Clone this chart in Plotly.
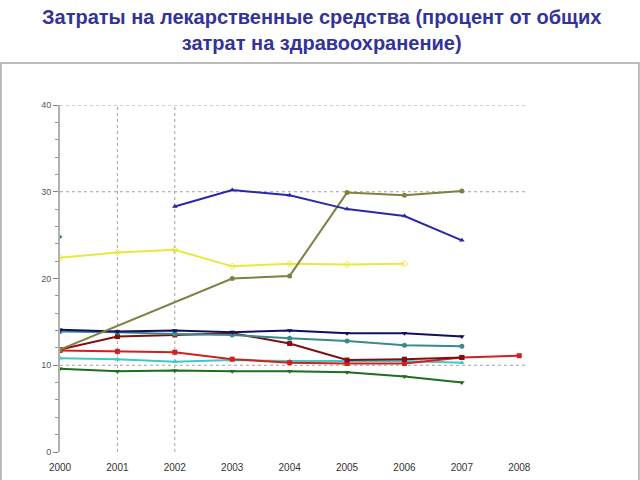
import plotly.graph_objects as go

years = [2000, 2001, 2002, 2003, 2004, 2005, 2006, 2007, 2008]

# ряды (процент от общих затрат на здравоохранение)
blue_x = [2002, 2003, 2004, 2005, 2006, 2007]
blue_y = [28.3, 30.2, 29.6, 28.0, 27.2, 24.4]

olive_x = [2000, 2003, 2004, 2005, 2006, 2007]
olive_y = [11.8, 20.0, 20.3, 29.9, 29.6, 30.1]

yellow_x = [2000, 2001, 2002, 2003, 2004, 2005, 2006]
yellow_y = [22.4, 23.0, 23.3, 21.4, 21.7, 21.6, 21.7]

green_pt_x = [2000]
green_pt_y = [24.8]

navy_x = [2000, 2001, 2002, 2003, 2004, 2005, 2006, 2007]
navy_y = [14.1, 13.9, 14.0, 13.8, 14.0, 13.7, 13.7, 13.3]

teal_x = [2000, 2001, 2002, 2003, 2004, 2005, 2006, 2007]
teal_y = [13.9, 13.8, 13.6, 13.5, 13.1, 12.8, 12.3, 12.2]

maroon_x = [2000, 2001, 2002, 2003, 2004, 2005, 2006, 2007]
maroon_y = [11.8, 13.3, 13.5, 13.7, 12.5, 10.6, 10.7, 10.9]

red_x = [2000, 2001, 2002, 2003, 2004, 2005, 2006, 2007, 2008]
red_y = [11.7, 11.6, 11.5, 10.7, 10.3, 10.2, 10.2, 10.9, 11.1]

cyan_x = [2000, 2001, 2002, 2003, 2004, 2005, 2006, 2007]
cyan_y = [10.8, 10.7, 10.4, 10.6, 10.5, 10.5, 10.5, 10.3]

dgreen_x = [2000, 2001, 2002, 2003, 2004, 2005, 2006, 2007]
dgreen_y = [9.6, 9.3, 9.4, 9.3, 9.3, 9.2, 8.7, 8.0]

series = [
    (cyan_x, cyan_y, '#40C8C8', 'triangle-up'),
    (dgreen_x, dgreen_y, '#1E6E1E', 'triangle-down'),
    (red_x, red_y, '#D02020', 'square'),
    (maroon_x, maroon_y, '#801010', 'square'),
    (teal_x, teal_y, '#3A8A8A', 'circle'),
    (navy_x, navy_y, '#101060', 'triangle-down'),
    (yellow_x, yellow_y, '#E8E840', 'diamond-open'),
    (olive_x, olive_y, '#808040', 'circle'),
    (blue_x, blue_y, '#2828A8', 'triangle-up'),
    (green_pt_x, green_pt_y, '#208040', 'triangle-right'),
]

fig = go.Figure()

for sx, sy, col, sym in series:
    fig.add_trace(go.Scatter(x=sx, y=sy, mode='lines+markers',
                             line=dict(color=col, width=2),
                             marker=dict(color=col, symbol=sym, size=5)))

# пунктирная сетка
for v in [10, 30, 40]:
    fig.add_shape(type='line', xref='paper', yref='y', x0=0, x1=1, y0=v, y1=v,
                  line=dict(color='#A0A0A0', width=1, dash='dot'), layer='below')
for yr in [2001, 2002]:
    fig.add_shape(type='line', xref='x', yref='paper', x0=yr, x1=yr, y0=0, y1=1,
                  line=dict(color='#A0A0A0', width=1, dash='dot'), layer='below')

# рамка вокруг графика
fig.add_shape(type='rect', xref='paper', yref='paper',
              x0=-0.127, x1=1.245, y0=-0.2, y1=1.121,
              line=dict(color='#A8A8A8', width=1.5))

# заголовок
fig.add_annotation(text='<b>Затраты на лекарственные средства (процент от общих<br>затрат на здравоохранение)</b>',
                   xref='paper', yref='paper', x=(321 - 60) / 465, y=(452 - 4) / 347,
                   xanchor='center', yanchor='top', showarrow=False,
                   font=dict(family='Liberation Sans, Arial', size=20, color='#333399'))

fig.update_xaxes(range=[2000, 2008.1], tickvals=years, showgrid=False,
                 zeroline=False, showline=False, ticks='', ticklabelstandoff=8,
                 automargin=False, tickfont=dict(size=10, color='#333333'))
fig.update_yaxes(range=[0, 40], tickvals=[0, 10, 20, 30, 40], showgrid=False,
                 zeroline=False, showline=True, linecolor='#B0B0B0', linewidth=2,
                 ticks='outside', ticklen=5, tickcolor='#808080', automargin=False,
                 minor=dict(ticks='outside', ticklen=3, dtick=2, tickcolor='#909090'),
                 tickfont=dict(size=9, color='#555555'))

fig.update_layout(
    width=640, height=480,
    margin=dict(l=60, r=115, t=105, b=28),
    showlegend=False,
    plot_bgcolor='white', paper_bgcolor='white',
    font=dict(family='Liberation Sans, Arial'),
)

fig.write_html("out.html", config={'displayModeBar': False},
               post_script="document.body.style.margin='0';")
